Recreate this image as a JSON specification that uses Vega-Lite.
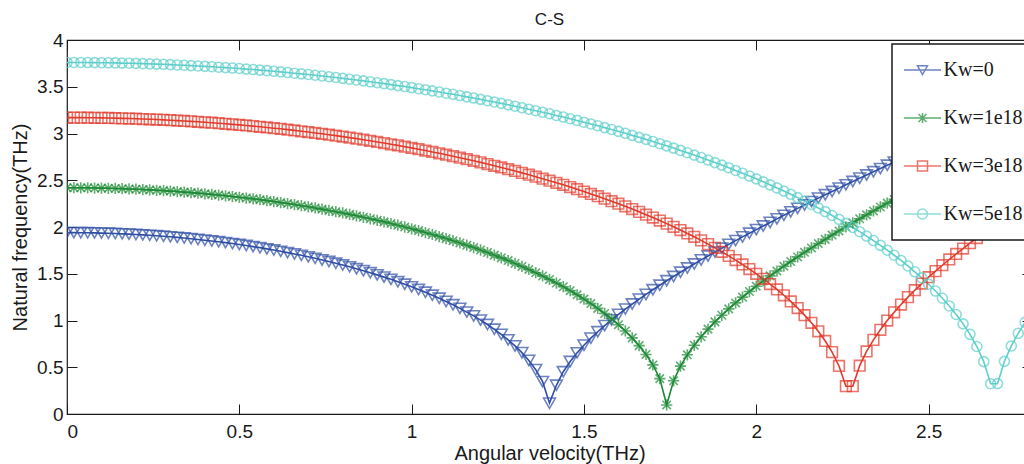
{
"$schema":"https://vega.github.io/schema/vega-lite/v6.json",
"width":965,"height":374,
"autosize":{"type":"none"},
"padding":{"left":67,"top":40,"right":0,"bottom":50},
"background":"white",
"title":{"text":"C-S","fontSize":17,"font":"Liberation Sans","fontWeight":"normal","color":"#1a1a1a","offset":2},
"config":{
 "view":{"stroke":"#1a1a1a","strokeWidth":1.2},
 "axis":{"grid":false,"domain":false,"tickColor":"#1a1a1a","tickSize":-10,"labelFont":"Liberation Sans","labelFontSize":19,"labelColor":"#1a1a1a","titleFont":"Liberation Sans","titleFontSize":20,"titleFontWeight":"normal","titleColor":"#1a1a1a"},
 "legend":{"orient":"none","legendX":825,"legendY":4,"strokeColor":"#1a1a1a","strokeWidth":1.5,"fillColor":"white","padding":16,"symbolOffset":4.5,"symbolSize":100,"labelOffset":11,"labelFont":"Liberation Serif","labelFontSize":20,"labelColor":"#1a1a1a","rowPadding":28,"symbolStrokeWidth":1.5}
},
"data":{"values":[
{"k":"Kw=0","x":0,"y":1.94},{"k":"Kw=0","x":0.02,"y":1.94},{"k":"Kw=0","x":0.04,"y":1.939},{"k":"Kw=0","x":0.06,"y":1.938},{"k":"Kw=0","x":0.08,"y":1.937},{"k":"Kw=0","x":0.1,"y":1.935},{"k":"Kw=0","x":0.12,"y":1.933},{"k":"Kw=0","x":0.14,"y":1.93},{"k":"Kw=0","x":0.16,"y":1.927},{"k":"Kw=0","x":0.18,"y":1.924},
{"k":"Kw=0","x":0.2,"y":1.92},{"k":"Kw=0","x":0.22,"y":1.916},{"k":"Kw=0","x":0.24,"y":1.911},{"k":"Kw=0","x":0.26,"y":1.906},{"k":"Kw=0","x":0.28,"y":1.901},{"k":"Kw=0","x":0.3,"y":1.895},{"k":"Kw=0","x":0.32,"y":1.889},{"k":"Kw=0","x":0.34,"y":1.882},{"k":"Kw=0","x":0.36,"y":1.875},{"k":"Kw=0","x":0.38,"y":1.867},
{"k":"Kw=0","x":0.4,"y":1.859},{"k":"Kw=0","x":0.42,"y":1.851},{"k":"Kw=0","x":0.44,"y":1.842},{"k":"Kw=0","x":0.46,"y":1.833},{"k":"Kw=0","x":0.48,"y":1.823},{"k":"Kw=0","x":0.5,"y":1.813},{"k":"Kw=0","x":0.52,"y":1.802},{"k":"Kw=0","x":0.54,"y":1.79},{"k":"Kw=0","x":0.56,"y":1.779},{"k":"Kw=0","x":0.58,"y":1.766},
{"k":"Kw=0","x":0.6,"y":1.754},{"k":"Kw=0","x":0.62,"y":1.74},{"k":"Kw=0","x":0.64,"y":1.726},{"k":"Kw=0","x":0.66,"y":1.712},{"k":"Kw=0","x":0.68,"y":1.697},{"k":"Kw=0","x":0.7,"y":1.681},{"k":"Kw=0","x":0.72,"y":1.665},{"k":"Kw=0","x":0.74,"y":1.648},{"k":"Kw=0","x":0.76,"y":1.631},{"k":"Kw=0","x":0.78,"y":1.612},
{"k":"Kw=0","x":0.8,"y":1.594},{"k":"Kw=0","x":0.82,"y":1.574},{"k":"Kw=0","x":0.84,"y":1.554},{"k":"Kw=0","x":0.86,"y":1.533},{"k":"Kw=0","x":0.88,"y":1.511},{"k":"Kw=0","x":0.9,"y":1.488},{"k":"Kw=0","x":0.92,"y":1.464},{"k":"Kw=0","x":0.94,"y":1.44},{"k":"Kw=0","x":0.96,"y":1.414},{"k":"Kw=0","x":0.98,"y":1.388},
{"k":"Kw=0","x":1,"y":1.36},{"k":"Kw=0","x":1.02,"y":1.332},{"k":"Kw=0","x":1.04,"y":1.302},{"k":"Kw=0","x":1.06,"y":1.27},{"k":"Kw=0","x":1.08,"y":1.238},{"k":"Kw=0","x":1.1,"y":1.204},{"k":"Kw=0","x":1.12,"y":1.168},{"k":"Kw=0","x":1.14,"y":1.13},{"k":"Kw=0","x":1.16,"y":1.09},{"k":"Kw=0","x":1.18,"y":1.049},
{"k":"Kw=0","x":1.2,"y":1.004},{"k":"Kw=0","x":1.22,"y":0.957},{"k":"Kw=0","x":1.24,"y":0.906},{"k":"Kw=0","x":1.26,"y":0.852},{"k":"Kw=0","x":1.28,"y":0.793},{"k":"Kw=0","x":1.3,"y":0.728},{"k":"Kw=0","x":1.32,"y":0.656},{"k":"Kw=0","x":1.34,"y":0.573},{"k":"Kw=0","x":1.36,"y":0.474},{"k":"Kw=0","x":1.38,"y":0.346},
{"k":"Kw=0","x":1.4,"y":0.116},{"k":"Kw=0","x":1.42,"y":0.307},{"k":"Kw=0","x":1.44,"y":0.452},{"k":"Kw=0","x":1.46,"y":0.561},{"k":"Kw=0","x":1.48,"y":0.654},{"k":"Kw=0","x":1.5,"y":0.736},{"k":"Kw=0","x":1.52,"y":0.811},{"k":"Kw=0","x":1.54,"y":0.88},{"k":"Kw=0","x":1.56,"y":0.945},{"k":"Kw=0","x":1.58,"y":1.006},
{"k":"Kw=0","x":1.6,"y":1.065},{"k":"Kw=0","x":1.62,"y":1.122},{"k":"Kw=0","x":1.64,"y":1.176},{"k":"Kw=0","x":1.66,"y":1.228},{"k":"Kw=0","x":1.68,"y":1.279},{"k":"Kw=0","x":1.7,"y":1.329},{"k":"Kw=0","x":1.72,"y":1.377},{"k":"Kw=0","x":1.74,"y":1.425},{"k":"Kw=0","x":1.76,"y":1.471},{"k":"Kw=0","x":1.78,"y":1.516},
{"k":"Kw=0","x":1.8,"y":1.561},{"k":"Kw=0","x":1.82,"y":1.604},{"k":"Kw=0","x":1.84,"y":1.648},{"k":"Kw=0","x":1.86,"y":1.69},{"k":"Kw=0","x":1.88,"y":1.732},{"k":"Kw=0","x":1.9,"y":1.773},{"k":"Kw=0","x":1.92,"y":1.814},{"k":"Kw=0","x":1.94,"y":1.854},{"k":"Kw=0","x":1.96,"y":1.894},{"k":"Kw=0","x":1.98,"y":1.933},
{"k":"Kw=0","x":2,"y":1.972},{"k":"Kw=0","x":2.02,"y":2.011},{"k":"Kw=0","x":2.04,"y":2.049},{"k":"Kw=0","x":2.06,"y":2.087},{"k":"Kw=0","x":2.08,"y":2.125},{"k":"Kw=0","x":2.1,"y":2.162},{"k":"Kw=0","x":2.12,"y":2.199},{"k":"Kw=0","x":2.14,"y":2.236},{"k":"Kw=0","x":2.16,"y":2.272},{"k":"Kw=0","x":2.18,"y":2.309},
{"k":"Kw=0","x":2.2,"y":2.345},{"k":"Kw=0","x":2.22,"y":2.38},{"k":"Kw=0","x":2.24,"y":2.416},{"k":"Kw=0","x":2.26,"y":2.451},{"k":"Kw=0","x":2.28,"y":2.487},{"k":"Kw=0","x":2.3,"y":2.522},{"k":"Kw=0","x":2.32,"y":2.556},{"k":"Kw=0","x":2.34,"y":2.591},{"k":"Kw=0","x":2.36,"y":2.625},{"k":"Kw=0","x":2.38,"y":2.66},
{"k":"Kw=0","x":2.4,"y":2.694},{"k":"Kw=0","x":2.42,"y":2.728},{"k":"Kw=0","x":2.44,"y":2.762},{"k":"Kw=0","x":2.46,"y":2.796},{"k":"Kw=0","x":2.48,"y":2.829},{"k":"Kw=0","x":2.5,"y":2.863},{"k":"Kw=0","x":2.52,"y":2.896},{"k":"Kw=0","x":2.54,"y":2.929},{"k":"Kw=0","x":2.56,"y":2.962},{"k":"Kw=0","x":2.58,"y":2.995},
{"k":"Kw=0","x":2.6,"y":3.028},{"k":"Kw=0","x":2.62,"y":3.061},{"k":"Kw=0","x":2.64,"y":3.094},{"k":"Kw=0","x":2.66,"y":3.126},{"k":"Kw=0","x":2.68,"y":3.159},{"k":"Kw=0","x":2.7,"y":3.191},{"k":"Kw=0","x":2.72,"y":3.224},{"k":"Kw=0","x":2.74,"y":3.256},{"k":"Kw=0","x":2.76,"y":3.288},{"k":"Kw=0","x":2.78,"y":3.32},
{"k":"Kw=0","x":2.8,"y":3.352},
{"k":"Kw=1e18","x":0,"y":2.42},{"k":"Kw=1e18","x":0.02,"y":2.42},{"k":"Kw=1e18","x":0.04,"y":2.419},{"k":"Kw=1e18","x":0.06,"y":2.419},{"k":"Kw=1e18","x":0.08,"y":2.417},{"k":"Kw=1e18","x":0.1,"y":2.416},{"k":"Kw=1e18","x":0.12,"y":2.414},{"k":"Kw=1e18","x":0.14,"y":2.412},{"k":"Kw=1e18","x":0.16,"y":2.41},{"k":"Kw=1e18","x":0.18,"y":2.407},
{"k":"Kw=1e18","x":0.2,"y":2.404},{"k":"Kw=1e18","x":0.22,"y":2.401},{"k":"Kw=1e18","x":0.24,"y":2.397},{"k":"Kw=1e18","x":0.26,"y":2.393},{"k":"Kw=1e18","x":0.28,"y":2.389},{"k":"Kw=1e18","x":0.3,"y":2.384},{"k":"Kw=1e18","x":0.32,"y":2.379},{"k":"Kw=1e18","x":0.34,"y":2.373},{"k":"Kw=1e18","x":0.36,"y":2.368},{"k":"Kw=1e18","x":0.38,"y":2.362},
{"k":"Kw=1e18","x":0.4,"y":2.355},{"k":"Kw=1e18","x":0.42,"y":2.349},{"k":"Kw=1e18","x":0.44,"y":2.342},{"k":"Kw=1e18","x":0.46,"y":2.334},{"k":"Kw=1e18","x":0.48,"y":2.326},{"k":"Kw=1e18","x":0.5,"y":2.318},{"k":"Kw=1e18","x":0.52,"y":2.31},{"k":"Kw=1e18","x":0.54,"y":2.301},{"k":"Kw=1e18","x":0.56,"y":2.292},{"k":"Kw=1e18","x":0.58,"y":2.282},
{"k":"Kw=1e18","x":0.6,"y":2.272},{"k":"Kw=1e18","x":0.62,"y":2.261},{"k":"Kw=1e18","x":0.64,"y":2.251},{"k":"Kw=1e18","x":0.66,"y":2.24},{"k":"Kw=1e18","x":0.68,"y":2.228},{"k":"Kw=1e18","x":0.7,"y":2.216},{"k":"Kw=1e18","x":0.72,"y":2.204},{"k":"Kw=1e18","x":0.74,"y":2.191},{"k":"Kw=1e18","x":0.76,"y":2.177},{"k":"Kw=1e18","x":0.78,"y":2.164},
{"k":"Kw=1e18","x":0.8,"y":2.15},{"k":"Kw=1e18","x":0.82,"y":2.135},{"k":"Kw=1e18","x":0.84,"y":2.12},{"k":"Kw=1e18","x":0.86,"y":2.104},{"k":"Kw=1e18","x":0.88,"y":2.088},{"k":"Kw=1e18","x":0.9,"y":2.072},{"k":"Kw=1e18","x":0.92,"y":2.055},{"k":"Kw=1e18","x":0.94,"y":2.037},{"k":"Kw=1e18","x":0.96,"y":2.019},{"k":"Kw=1e18","x":0.98,"y":2.0},
{"k":"Kw=1e18","x":1,"y":1.981},{"k":"Kw=1e18","x":1.02,"y":1.961},{"k":"Kw=1e18","x":1.04,"y":1.941},{"k":"Kw=1e18","x":1.06,"y":1.92},{"k":"Kw=1e18","x":1.08,"y":1.898},{"k":"Kw=1e18","x":1.1,"y":1.876},{"k":"Kw=1e18","x":1.12,"y":1.853},{"k":"Kw=1e18","x":1.14,"y":1.829},{"k":"Kw=1e18","x":1.16,"y":1.805},{"k":"Kw=1e18","x":1.18,"y":1.78},
{"k":"Kw=1e18","x":1.2,"y":1.754},{"k":"Kw=1e18","x":1.22,"y":1.727},{"k":"Kw=1e18","x":1.24,"y":1.699},{"k":"Kw=1e18","x":1.26,"y":1.67},{"k":"Kw=1e18","x":1.28,"y":1.641},{"k":"Kw=1e18","x":1.3,"y":1.61},{"k":"Kw=1e18","x":1.32,"y":1.578},{"k":"Kw=1e18","x":1.34,"y":1.546},{"k":"Kw=1e18","x":1.36,"y":1.511},{"k":"Kw=1e18","x":1.38,"y":1.476},
{"k":"Kw=1e18","x":1.4,"y":1.439},{"k":"Kw=1e18","x":1.42,"y":1.401},{"k":"Kw=1e18","x":1.44,"y":1.361},{"k":"Kw=1e18","x":1.46,"y":1.319},{"k":"Kw=1e18","x":1.48,"y":1.275},{"k":"Kw=1e18","x":1.5,"y":1.229},{"k":"Kw=1e18","x":1.52,"y":1.181},{"k":"Kw=1e18","x":1.54,"y":1.13},{"k":"Kw=1e18","x":1.56,"y":1.075},{"k":"Kw=1e18","x":1.58,"y":1.018},
{"k":"Kw=1e18","x":1.6,"y":0.955},{"k":"Kw=1e18","x":1.62,"y":0.888},{"k":"Kw=1e18","x":1.64,"y":0.814},{"k":"Kw=1e18","x":1.66,"y":0.731},{"k":"Kw=1e18","x":1.68,"y":0.637},{"k":"Kw=1e18","x":1.7,"y":0.525},{"k":"Kw=1e18","x":1.72,"y":0.378},{"k":"Kw=1e18","x":1.74,"y":0.097},{"k":"Kw=1e18","x":1.76,"y":0.355},{"k":"Kw=1e18","x":1.78,"y":0.512},
{"k":"Kw=1e18","x":1.8,"y":0.633},{"k":"Kw=1e18","x":1.82,"y":0.735},{"k":"Kw=1e18","x":1.84,"y":0.826},{"k":"Kw=1e18","x":1.86,"y":0.908},{"k":"Kw=1e18","x":1.88,"y":0.985},{"k":"Kw=1e18","x":1.9,"y":1.056},{"k":"Kw=1e18","x":1.92,"y":1.124},{"k":"Kw=1e18","x":1.94,"y":1.188},{"k":"Kw=1e18","x":1.96,"y":1.25},{"k":"Kw=1e18","x":1.98,"y":1.31},
{"k":"Kw=1e18","x":2,"y":1.367},{"k":"Kw=1e18","x":2.02,"y":1.423},{"k":"Kw=1e18","x":2.04,"y":1.477},{"k":"Kw=1e18","x":2.06,"y":1.529},{"k":"Kw=1e18","x":2.08,"y":1.581},{"k":"Kw=1e18","x":2.1,"y":1.631},{"k":"Kw=1e18","x":2.12,"y":1.68},{"k":"Kw=1e18","x":2.14,"y":1.729},{"k":"Kw=1e18","x":2.16,"y":1.776},{"k":"Kw=1e18","x":2.18,"y":1.823},
{"k":"Kw=1e18","x":2.2,"y":1.868},{"k":"Kw=1e18","x":2.22,"y":1.914},{"k":"Kw=1e18","x":2.24,"y":1.958},{"k":"Kw=1e18","x":2.26,"y":2.002},{"k":"Kw=1e18","x":2.28,"y":2.045},{"k":"Kw=1e18","x":2.3,"y":2.088},{"k":"Kw=1e18","x":2.32,"y":2.13},{"k":"Kw=1e18","x":2.34,"y":2.172},{"k":"Kw=1e18","x":2.36,"y":2.214},{"k":"Kw=1e18","x":2.38,"y":2.255},
{"k":"Kw=1e18","x":2.4,"y":2.295},{"k":"Kw=1e18","x":2.42,"y":2.335},{"k":"Kw=1e18","x":2.44,"y":2.375},{"k":"Kw=1e18","x":2.46,"y":2.415},{"k":"Kw=1e18","x":2.48,"y":2.454},{"k":"Kw=1e18","x":2.5,"y":2.493},{"k":"Kw=1e18","x":2.52,"y":2.531},{"k":"Kw=1e18","x":2.54,"y":2.57},{"k":"Kw=1e18","x":2.56,"y":2.608},{"k":"Kw=1e18","x":2.58,"y":2.646},
{"k":"Kw=1e18","x":2.6,"y":2.683},{"k":"Kw=1e18","x":2.62,"y":2.72},{"k":"Kw=1e18","x":2.64,"y":2.758},{"k":"Kw=1e18","x":2.66,"y":2.794},{"k":"Kw=1e18","x":2.68,"y":2.831},{"k":"Kw=1e18","x":2.7,"y":2.868},{"k":"Kw=1e18","x":2.72,"y":2.904},{"k":"Kw=1e18","x":2.74,"y":2.94},{"k":"Kw=1e18","x":2.76,"y":2.976},{"k":"Kw=1e18","x":2.78,"y":3.012},
{"k":"Kw=1e18","x":2.8,"y":3.047},
{"k":"Kw=3e18","x":0,"y":3.17},{"k":"Kw=3e18","x":0.02,"y":3.17},{"k":"Kw=3e18","x":0.04,"y":3.17},{"k":"Kw=3e18","x":0.06,"y":3.169},{"k":"Kw=3e18","x":0.08,"y":3.168},{"k":"Kw=3e18","x":0.1,"y":3.167},{"k":"Kw=3e18","x":0.12,"y":3.166},{"k":"Kw=3e18","x":0.14,"y":3.164},{"k":"Kw=3e18","x":0.16,"y":3.162},{"k":"Kw=3e18","x":0.18,"y":3.16},
{"k":"Kw=3e18","x":0.2,"y":3.158},{"k":"Kw=3e18","x":0.22,"y":3.155},{"k":"Kw=3e18","x":0.24,"y":3.152},{"k":"Kw=3e18","x":0.26,"y":3.149},{"k":"Kw=3e18","x":0.28,"y":3.146},{"k":"Kw=3e18","x":0.3,"y":3.142},{"k":"Kw=3e18","x":0.32,"y":3.138},{"k":"Kw=3e18","x":0.34,"y":3.134},{"k":"Kw=3e18","x":0.36,"y":3.13},{"k":"Kw=3e18","x":0.38,"y":3.125},
{"k":"Kw=3e18","x":0.4,"y":3.12},{"k":"Kw=3e18","x":0.42,"y":3.115},{"k":"Kw=3e18","x":0.44,"y":3.11},{"k":"Kw=3e18","x":0.46,"y":3.104},{"k":"Kw=3e18","x":0.48,"y":3.098},{"k":"Kw=3e18","x":0.5,"y":3.092},{"k":"Kw=3e18","x":0.52,"y":3.086},{"k":"Kw=3e18","x":0.54,"y":3.079},{"k":"Kw=3e18","x":0.56,"y":3.072},{"k":"Kw=3e18","x":0.58,"y":3.065},
{"k":"Kw=3e18","x":0.6,"y":3.057},{"k":"Kw=3e18","x":0.62,"y":3.05},{"k":"Kw=3e18","x":0.64,"y":3.041},{"k":"Kw=3e18","x":0.66,"y":3.033},{"k":"Kw=3e18","x":0.68,"y":3.024},{"k":"Kw=3e18","x":0.7,"y":3.016},{"k":"Kw=3e18","x":0.72,"y":3.006},{"k":"Kw=3e18","x":0.74,"y":2.997},{"k":"Kw=3e18","x":0.76,"y":2.987},{"k":"Kw=3e18","x":0.78,"y":2.977},
{"k":"Kw=3e18","x":0.8,"y":2.967},{"k":"Kw=3e18","x":0.82,"y":2.956},{"k":"Kw=3e18","x":0.84,"y":2.945},{"k":"Kw=3e18","x":0.86,"y":2.934},{"k":"Kw=3e18","x":0.88,"y":2.922},{"k":"Kw=3e18","x":0.9,"y":2.91},{"k":"Kw=3e18","x":0.92,"y":2.898},{"k":"Kw=3e18","x":0.94,"y":2.885},{"k":"Kw=3e18","x":0.96,"y":2.873},{"k":"Kw=3e18","x":0.98,"y":2.859},
{"k":"Kw=3e18","x":1,"y":2.846},{"k":"Kw=3e18","x":1.02,"y":2.832},{"k":"Kw=3e18","x":1.04,"y":2.818},{"k":"Kw=3e18","x":1.06,"y":2.803},{"k":"Kw=3e18","x":1.08,"y":2.788},{"k":"Kw=3e18","x":1.1,"y":2.773},{"k":"Kw=3e18","x":1.12,"y":2.757},{"k":"Kw=3e18","x":1.14,"y":2.741},{"k":"Kw=3e18","x":1.16,"y":2.725},{"k":"Kw=3e18","x":1.18,"y":2.708},
{"k":"Kw=3e18","x":1.2,"y":2.691},{"k":"Kw=3e18","x":1.22,"y":2.673},{"k":"Kw=3e18","x":1.24,"y":2.655},{"k":"Kw=3e18","x":1.26,"y":2.637},{"k":"Kw=3e18","x":1.28,"y":2.618},{"k":"Kw=3e18","x":1.3,"y":2.599},{"k":"Kw=3e18","x":1.32,"y":2.579},{"k":"Kw=3e18","x":1.34,"y":2.559},{"k":"Kw=3e18","x":1.36,"y":2.538},{"k":"Kw=3e18","x":1.38,"y":2.517},
{"k":"Kw=3e18","x":1.4,"y":2.495},{"k":"Kw=3e18","x":1.42,"y":2.473},{"k":"Kw=3e18","x":1.44,"y":2.451},{"k":"Kw=3e18","x":1.46,"y":2.427},{"k":"Kw=3e18","x":1.48,"y":2.404},{"k":"Kw=3e18","x":1.5,"y":2.379},{"k":"Kw=3e18","x":1.52,"y":2.354},{"k":"Kw=3e18","x":1.54,"y":2.329},{"k":"Kw=3e18","x":1.56,"y":2.303},{"k":"Kw=3e18","x":1.58,"y":2.276},
{"k":"Kw=3e18","x":1.6,"y":2.249},{"k":"Kw=3e18","x":1.62,"y":2.221},{"k":"Kw=3e18","x":1.64,"y":2.192},{"k":"Kw=3e18","x":1.66,"y":2.162},{"k":"Kw=3e18","x":1.68,"y":2.132},{"k":"Kw=3e18","x":1.7,"y":2.101},{"k":"Kw=3e18","x":1.72,"y":2.069},{"k":"Kw=3e18","x":1.74,"y":2.036},{"k":"Kw=3e18","x":1.76,"y":2.002},{"k":"Kw=3e18","x":1.78,"y":1.967},
{"k":"Kw=3e18","x":1.8,"y":1.931},{"k":"Kw=3e18","x":1.82,"y":1.895},{"k":"Kw=3e18","x":1.84,"y":1.857},{"k":"Kw=3e18","x":1.86,"y":1.817},{"k":"Kw=3e18","x":1.88,"y":1.777},{"k":"Kw=3e18","x":1.9,"y":1.735},{"k":"Kw=3e18","x":1.92,"y":1.691},{"k":"Kw=3e18","x":1.94,"y":1.646},{"k":"Kw=3e18","x":1.96,"y":1.599},{"k":"Kw=3e18","x":1.98,"y":1.55},
{"k":"Kw=3e18","x":2,"y":1.499},{"k":"Kw=3e18","x":2.02,"y":1.446},{"k":"Kw=3e18","x":2.04,"y":1.39},{"k":"Kw=3e18","x":2.06,"y":1.332},{"k":"Kw=3e18","x":2.08,"y":1.27},{"k":"Kw=3e18","x":2.1,"y":1.204},{"k":"Kw=3e18","x":2.12,"y":1.133},{"k":"Kw=3e18","x":2.14,"y":1.057},{"k":"Kw=3e18","x":2.16,"y":0.975},{"k":"Kw=3e18","x":2.18,"y":0.884},
{"k":"Kw=3e18","x":2.2,"y":0.781},{"k":"Kw=3e18","x":2.22,"y":0.662},{"k":"Kw=3e18","x":2.24,"y":0.514},{"k":"Kw=3e18","x":2.26,"y":0.297},{"k":"Kw=3e18","x":2.28,"y":0.298},{"k":"Kw=3e18","x":2.3,"y":0.517},{"k":"Kw=3e18","x":2.32,"y":0.669},{"k":"Kw=3e18","x":2.34,"y":0.793},{"k":"Kw=3e18","x":2.36,"y":0.901},{"k":"Kw=3e18","x":2.38,"y":0.999},
{"k":"Kw=3e18","x":2.4,"y":1.088},{"k":"Kw=3e18","x":2.42,"y":1.171},{"k":"Kw=3e18","x":2.44,"y":1.25},{"k":"Kw=3e18","x":2.46,"y":1.324},{"k":"Kw=3e18","x":2.48,"y":1.395},{"k":"Kw=3e18","x":2.5,"y":1.463},{"k":"Kw=3e18","x":2.52,"y":1.528},{"k":"Kw=3e18","x":2.54,"y":1.591},{"k":"Kw=3e18","x":2.56,"y":1.653},{"k":"Kw=3e18","x":2.58,"y":1.712},
{"k":"Kw=3e18","x":2.6,"y":1.77},{"k":"Kw=3e18","x":2.62,"y":1.827},{"k":"Kw=3e18","x":2.64,"y":1.882},{"k":"Kw=3e18","x":2.66,"y":1.936},{"k":"Kw=3e18","x":2.68,"y":1.989},{"k":"Kw=3e18","x":2.7,"y":2.042},{"k":"Kw=3e18","x":2.72,"y":2.093},{"k":"Kw=3e18","x":2.74,"y":2.143},{"k":"Kw=3e18","x":2.76,"y":2.192},{"k":"Kw=3e18","x":2.78,"y":2.241},
{"k":"Kw=3e18","x":2.8,"y":2.289},
{"k":"Kw=5e18","x":0,"y":3.76},{"k":"Kw=5e18","x":0.02,"y":3.76},{"k":"Kw=5e18","x":0.04,"y":3.76},{"k":"Kw=5e18","x":0.06,"y":3.759},{"k":"Kw=5e18","x":0.08,"y":3.758},{"k":"Kw=5e18","x":0.1,"y":3.757},{"k":"Kw=5e18","x":0.12,"y":3.756},{"k":"Kw=5e18","x":0.14,"y":3.755},{"k":"Kw=5e18","x":0.16,"y":3.753},{"k":"Kw=5e18","x":0.18,"y":3.752},
{"k":"Kw=5e18","x":0.2,"y":3.75},{"k":"Kw=5e18","x":0.22,"y":3.747},{"k":"Kw=5e18","x":0.24,"y":3.745},{"k":"Kw=5e18","x":0.26,"y":3.742},{"k":"Kw=5e18","x":0.28,"y":3.74},{"k":"Kw=5e18","x":0.3,"y":3.737},{"k":"Kw=5e18","x":0.32,"y":3.733},{"k":"Kw=5e18","x":0.34,"y":3.73},{"k":"Kw=5e18","x":0.36,"y":3.726},{"k":"Kw=5e18","x":0.38,"y":3.722},
{"k":"Kw=5e18","x":0.4,"y":3.718},{"k":"Kw=5e18","x":0.42,"y":3.714},{"k":"Kw=5e18","x":0.44,"y":3.709},{"k":"Kw=5e18","x":0.46,"y":3.705},{"k":"Kw=5e18","x":0.48,"y":3.7},{"k":"Kw=5e18","x":0.5,"y":3.695},{"k":"Kw=5e18","x":0.52,"y":3.689},{"k":"Kw=5e18","x":0.54,"y":3.684},{"k":"Kw=5e18","x":0.56,"y":3.678},{"k":"Kw=5e18","x":0.58,"y":3.672},
{"k":"Kw=5e18","x":0.6,"y":3.665},{"k":"Kw=5e18","x":0.62,"y":3.659},{"k":"Kw=5e18","x":0.64,"y":3.652},{"k":"Kw=5e18","x":0.66,"y":3.645},{"k":"Kw=5e18","x":0.68,"y":3.638},{"k":"Kw=5e18","x":0.7,"y":3.631},{"k":"Kw=5e18","x":0.72,"y":3.623},{"k":"Kw=5e18","x":0.74,"y":3.615},{"k":"Kw=5e18","x":0.76,"y":3.607},{"k":"Kw=5e18","x":0.78,"y":3.599},
{"k":"Kw=5e18","x":0.8,"y":3.59},{"k":"Kw=5e18","x":0.82,"y":3.581},{"k":"Kw=5e18","x":0.84,"y":3.572},{"k":"Kw=5e18","x":0.86,"y":3.563},{"k":"Kw=5e18","x":0.88,"y":3.553},{"k":"Kw=5e18","x":0.9,"y":3.543},{"k":"Kw=5e18","x":0.92,"y":3.533},{"k":"Kw=5e18","x":0.94,"y":3.523},{"k":"Kw=5e18","x":0.96,"y":3.512},{"k":"Kw=5e18","x":0.98,"y":3.502},
{"k":"Kw=5e18","x":1,"y":3.491},{"k":"Kw=5e18","x":1.02,"y":3.479},{"k":"Kw=5e18","x":1.04,"y":3.468},{"k":"Kw=5e18","x":1.06,"y":3.456},{"k":"Kw=5e18","x":1.08,"y":3.444},{"k":"Kw=5e18","x":1.1,"y":3.431},{"k":"Kw=5e18","x":1.12,"y":3.419},{"k":"Kw=5e18","x":1.14,"y":3.406},{"k":"Kw=5e18","x":1.16,"y":3.392},{"k":"Kw=5e18","x":1.18,"y":3.379},
{"k":"Kw=5e18","x":1.2,"y":3.365},{"k":"Kw=5e18","x":1.22,"y":3.351},{"k":"Kw=5e18","x":1.24,"y":3.337},{"k":"Kw=5e18","x":1.26,"y":3.322},{"k":"Kw=5e18","x":1.28,"y":3.307},{"k":"Kw=5e18","x":1.3,"y":3.292},{"k":"Kw=5e18","x":1.32,"y":3.276},{"k":"Kw=5e18","x":1.34,"y":3.26},{"k":"Kw=5e18","x":1.36,"y":3.244},{"k":"Kw=5e18","x":1.38,"y":3.228},
{"k":"Kw=5e18","x":1.4,"y":3.211},{"k":"Kw=5e18","x":1.42,"y":3.193},{"k":"Kw=5e18","x":1.44,"y":3.176},{"k":"Kw=5e18","x":1.46,"y":3.158},{"k":"Kw=5e18","x":1.48,"y":3.14},{"k":"Kw=5e18","x":1.5,"y":3.121},{"k":"Kw=5e18","x":1.52,"y":3.102},{"k":"Kw=5e18","x":1.54,"y":3.083},{"k":"Kw=5e18","x":1.56,"y":3.063},{"k":"Kw=5e18","x":1.58,"y":3.043},
{"k":"Kw=5e18","x":1.6,"y":3.023},{"k":"Kw=5e18","x":1.62,"y":3.002},{"k":"Kw=5e18","x":1.64,"y":2.98},{"k":"Kw=5e18","x":1.66,"y":2.959},{"k":"Kw=5e18","x":1.68,"y":2.937},{"k":"Kw=5e18","x":1.7,"y":2.914},{"k":"Kw=5e18","x":1.72,"y":2.891},{"k":"Kw=5e18","x":1.74,"y":2.868},{"k":"Kw=5e18","x":1.76,"y":2.844},{"k":"Kw=5e18","x":1.78,"y":2.819},
{"k":"Kw=5e18","x":1.8,"y":2.794},{"k":"Kw=5e18","x":1.82,"y":2.769},{"k":"Kw=5e18","x":1.84,"y":2.743},{"k":"Kw=5e18","x":1.86,"y":2.716},{"k":"Kw=5e18","x":1.88,"y":2.689},{"k":"Kw=5e18","x":1.9,"y":2.662},{"k":"Kw=5e18","x":1.92,"y":2.634},{"k":"Kw=5e18","x":1.94,"y":2.605},{"k":"Kw=5e18","x":1.96,"y":2.575},{"k":"Kw=5e18","x":1.98,"y":2.545},
{"k":"Kw=5e18","x":2,"y":2.515},{"k":"Kw=5e18","x":2.02,"y":2.483},{"k":"Kw=5e18","x":2.04,"y":2.451},{"k":"Kw=5e18","x":2.06,"y":2.418},{"k":"Kw=5e18","x":2.08,"y":2.384},{"k":"Kw=5e18","x":2.1,"y":2.35},{"k":"Kw=5e18","x":2.12,"y":2.314},{"k":"Kw=5e18","x":2.14,"y":2.278},{"k":"Kw=5e18","x":2.16,"y":2.241},{"k":"Kw=5e18","x":2.18,"y":2.203},
{"k":"Kw=5e18","x":2.2,"y":2.164},{"k":"Kw=5e18","x":2.22,"y":2.123},{"k":"Kw=5e18","x":2.24,"y":2.082},{"k":"Kw=5e18","x":2.26,"y":2.039},{"k":"Kw=5e18","x":2.28,"y":1.995},{"k":"Kw=5e18","x":2.3,"y":1.95},{"k":"Kw=5e18","x":2.32,"y":1.903},{"k":"Kw=5e18","x":2.34,"y":1.855},{"k":"Kw=5e18","x":2.36,"y":1.804},{"k":"Kw=5e18","x":2.38,"y":1.752},
{"k":"Kw=5e18","x":2.4,"y":1.698},{"k":"Kw=5e18","x":2.42,"y":1.642},{"k":"Kw=5e18","x":2.44,"y":1.583},{"k":"Kw=5e18","x":2.46,"y":1.521},{"k":"Kw=5e18","x":2.48,"y":1.456},{"k":"Kw=5e18","x":2.5,"y":1.388},{"k":"Kw=5e18","x":2.52,"y":1.315},{"k":"Kw=5e18","x":2.54,"y":1.238},{"k":"Kw=5e18","x":2.56,"y":1.155},{"k":"Kw=5e18","x":2.58,"y":1.064},
{"k":"Kw=5e18","x":2.6,"y":0.964},{"k":"Kw=5e18","x":2.62,"y":0.852},{"k":"Kw=5e18","x":2.64,"y":0.722},{"k":"Kw=5e18","x":2.66,"y":0.56},{"k":"Kw=5e18","x":2.68,"y":0.324},{"k":"Kw=5e18","x":2.7,"y":0.325},{"k":"Kw=5e18","x":2.72,"y":0.563},{"k":"Kw=5e18","x":2.74,"y":0.728},{"k":"Kw=5e18","x":2.76,"y":0.863},{"k":"Kw=5e18","x":2.78,"y":0.981},
{"k":"Kw=5e18","x":2.8,"y":1.086}
]},
"resolve":{"axis":{"x":"independent","y":"independent"},"scale":{"color":"independent","shape":"independent"},"legend":{"color":"independent","shape":"independent"}},
"layer":[
 {"mark":{"type":"line","strokeWidth":1.6,"clip":true},
  "encoding":{
   "x":{"field":"x","type":"quantitative","scale":{"domain":[0,2.8],"nice":false,"zero":false},"axis":{"orient":"bottom","values":[0,0.5,1,1.5,2,2.5],"format":"~g","labelPadding":18,"title":"Angular velocity(THz)","titlePadding":2}},
   "y":{"field":"y","type":"quantitative","scale":{"domain":[0,4],"nice":false},"axis":{"orient":"left","values":[0,0.5,1,1.5,2,2.5,3,3.5,4],"format":"~g","labelPadding":14,"title":"Natural frequency(THz)","titlePadding":6}},
   "color":{"field":"k","type":"nominal","scale":{"domain":["Kw=0","Kw=1e18","Kw=3e18","Kw=5e18"],"range":["#2f4fa6","#1c8a34","#e23a2b","#5ecfcc"]},"legend":null}
  }},
 {"mark":{"type":"point","filled":false,"strokeWidth":1.6,"clip":true},
  "encoding":{
   "x":{"field":"x","type":"quantitative","axis":null},
   "y":{"field":"y","type":"quantitative","axis":null},
   "color":{"field":"k","type":"nominal","scale":{"domain":["Kw=0","Kw=1e18","Kw=3e18","Kw=5e18"],"range":["#2f4fa6","#1c8a34","#e23a2b","#5ecfcc"]},"legend":null},
   "shape":{"field":"k","type":"nominal","scale":{"domain":["Kw=0","Kw=1e18","Kw=3e18","Kw=5e18"],"range":["triangle-down","M-1,0L1,0M0,-1L0,1M-0.75,-0.75L0.75,0.75M-0.75,0.75L0.75,-0.75","square","circle"]},"legend":null},
   "size":{"field":"k","type":"nominal","scale":{"domain":["Kw=0","Kw=1e18","Kw=3e18","Kw=5e18"],"range":[140,100,110,130]},"legend":null}
  }},
 {"mark":{"type":"point","opacity":0},
  "encoding":{
   "x":{"field":"x","type":"quantitative","axis":{"orient":"top","values":[0,0.5,1,1.5,2,2.5],"labels":false,"title":null}},
   "y":{"field":"y","type":"quantitative","axis":{"orient":"right","values":[0,0.5,1,1.5,2,2.5,3,3.5,4],"labels":false,"title":null}}
  }},
 {"transform":[{"filter":"false"}],
  "mark":{"type":"point","filled":false,"strokeWidth":1.5,"size":100},
  "encoding":{
   "x":{"field":"x","type":"quantitative","axis":null},
   "y":{"field":"y","type":"quantitative","axis":null},
   "color":{"field":"k","type":"nominal","scale":{"domain":["Kw=0","Kw=1e18","Kw=3e18","Kw=5e18"],"range":["#2f4fa6","#1c8a34","#e23a2b","#5ecfcc"]},"legend":{"title":null}},
   "shape":{"field":"k","type":"nominal","scale":{"domain":["Kw=0","Kw=1e18","Kw=3e18","Kw=5e18"],"range":["M-3.7,0L3.7,0M-1,-0.85L1,-0.85L0,0.9Z","M-3.7,0L3.7,0M0,-1L0,1M-0.8,-0.8L0.8,0.8M-0.8,0.8L0.8,-0.8","M-3.7,0L3.7,0M-1,-1L1,-1L1,1L-1,1Z","M-3.7,0L3.7,0M1,0A1,1,0,1,1,-1,0A1,1,0,1,1,1,0Z"]},"legend":{"title":null}}
  }}
]
}
